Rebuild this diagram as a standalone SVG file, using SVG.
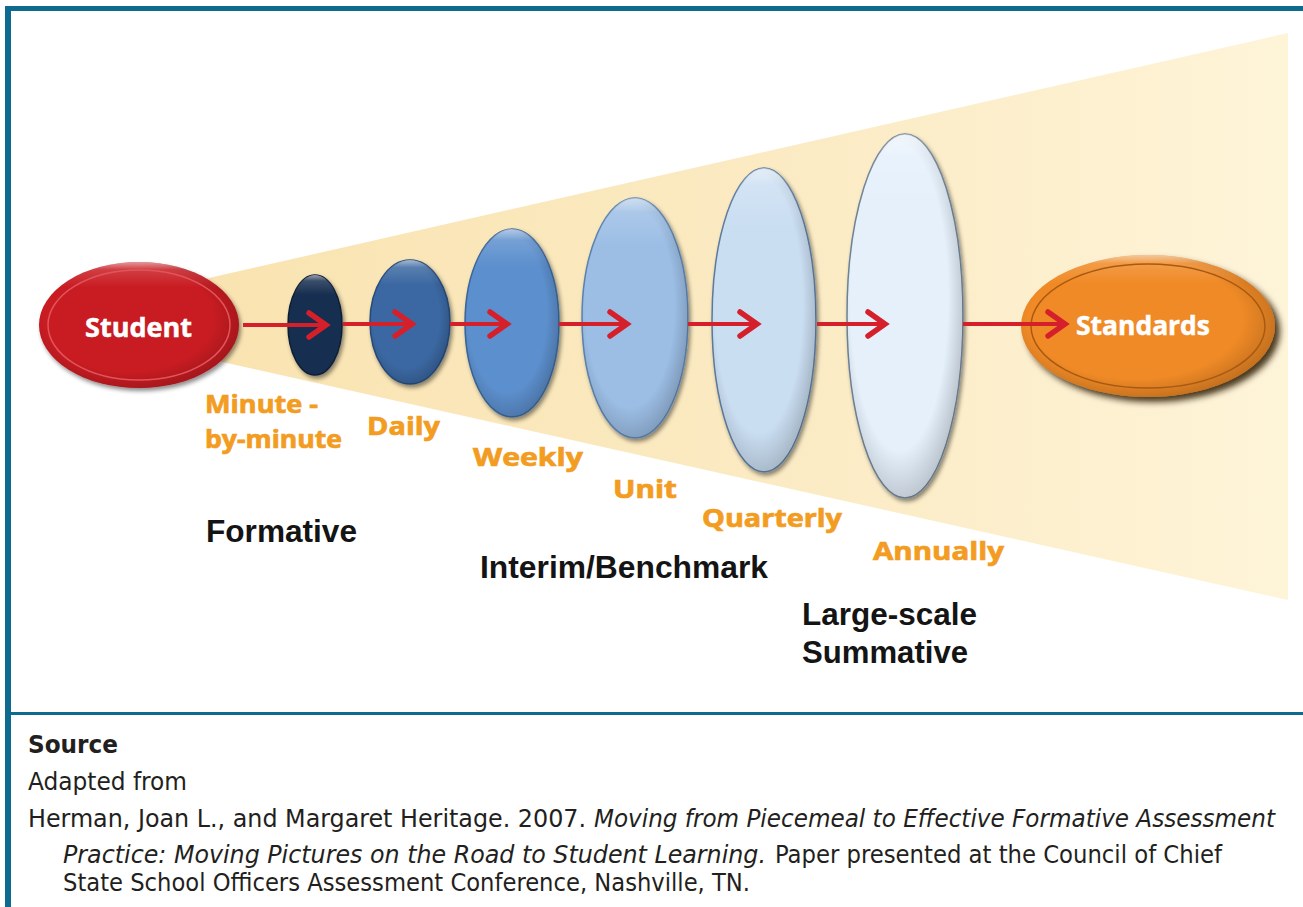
<svg xmlns="http://www.w3.org/2000/svg" width="1303" height="907" viewBox="0 0 1303 907">
  <style>
    .lbl { font-family: "Open Sans", Lato, "Liberation Sans", sans-serif; font-weight: bold; font-size: 25px; fill: #F39C22; stroke: #F39C22; stroke-width: 0.7px; }
    .cat { font-family: "Liberation Sans", Arial, sans-serif; font-weight: bold; font-size: 31px; fill: #141414; }
    .node-t { font-family: "Open Sans", Lato, "Liberation Sans", sans-serif; font-weight: bold; font-size: 27px; fill: #ffffff; stroke: #ffffff; stroke-width: 0.5px; }
    .src { font-family: "DejaVu Sans Condensed", "DejaVu Sans", sans-serif; font-stretch: condensed; font-size: 24px; fill: #231F20; }
    .it { font-style: italic; }
    .conn { stroke: #D5202B; stroke-width: 4; fill: none; marker-end: url(#arr); }
  </style>
  <defs>
    <marker id="arr" markerUnits="userSpaceOnUse" markerWidth="30" markerHeight="30" refX="22" refY="15" orient="auto" viewBox="0 0 30 30">
      <path d="M4 3 L21 15 L4 27" fill="none" stroke="#D5202B" stroke-width="5.5" stroke-linecap="round" stroke-linejoin="miter"/>
    </marker>
    <linearGradient id="beam" x1="0" y1="0" x2="1" y2="0">
      <stop offset="0" stop-color="#F9E3B0"/>
      <stop offset="0.5" stop-color="#FBEAC2"/>
      <stop offset="1" stop-color="#FEF4D8"/>
    </linearGradient>
    <radialGradient id="shade" cx="0.45" cy="0.45" r="0.6">
      <stop offset="0.7" stop-color="#000" stop-opacity="0"/>
      <stop offset="1" stop-color="#000" stop-opacity="0.22"/>
    </radialGradient>
    <linearGradient id="gloss" x1="0" y1="0" x2="0" y2="1">
      <stop offset="0" stop-color="#fff" stop-opacity="0.55"/>
      <stop offset="0.06" stop-color="#fff" stop-opacity="0.15"/>
      <stop offset="0.2" stop-color="#fff" stop-opacity="0"/>
    </linearGradient>
    <filter id="sh" x="-30%" y="-30%" width="160%" height="160%">
      <feDropShadow dx="2" dy="3" stdDeviation="2" flood-color="#000" flood-opacity="0.45"/>
    </filter>
    <filter id="sh2" x="-30%" y="-30%" width="160%" height="160%">
      <feDropShadow dx="5" dy="5" stdDeviation="3" flood-color="#2a1200" flood-opacity="0.85"/>
    </filter>
  </defs>

  <!-- frame -->
  <rect x="5" y="6" width="1298" height="5" fill="#0F6A8F"/>
  <rect x="5" y="6" width="6" height="901" fill="#0F6A8F"/>
  <rect x="11" y="712" width="1292" height="3" fill="#0F6A8F"/>

  <!-- beam -->
  <polygon points="200,280 1288,33 1288,600 200,357" fill="url(#beam)"/>

  <!-- nodes -->
  <g id="student">
    <ellipse cx="139" cy="325" rx="100" ry="63" fill="#C81B23" filter="url(#sh)"/>
    <ellipse cx="139" cy="325" rx="100" ry="63" fill="url(#shade)"/>
    <ellipse cx="139" cy="325" rx="100" ry="63" fill="url(#gloss)"/>
    <ellipse cx="139" cy="325" rx="91" ry="55" fill="none" stroke="#E2545A" stroke-width="1.5"/>
    <text class="node-t" x="85" y="337" textLength="107" lengthAdjust="spacingAndGlyphs">Student</text>
  </g>

  <g id="minute">
    <ellipse cx="315" cy="325" rx="27" ry="50" fill="#172F50" stroke="#0E1F36" stroke-width="1.5" filter="url(#sh)"/>
    <ellipse cx="315" cy="325" rx="27" ry="50" fill="url(#gloss)"/>
    <text class="lbl" x="205" y="413" textLength="113" lengthAdjust="spacingAndGlyphs">Minute -</text>
    <text class="lbl" x="205" y="448" textLength="137" lengthAdjust="spacingAndGlyphs">by-minute</text>
  </g>

  <g id="daily">
    <ellipse cx="410" cy="322" rx="40" ry="62" fill="#3A68A2" stroke="#274C7C" stroke-width="1.5" filter="url(#sh)"/>
    <ellipse cx="410" cy="322" rx="40" ry="62" fill="url(#shade)"/>
    <ellipse cx="410" cy="322" rx="40" ry="62" fill="url(#gloss)"/>
    <text class="lbl" x="367" y="435" textLength="73" lengthAdjust="spacingAndGlyphs">Daily</text>
  </g>

  <g id="weekly">
    <ellipse cx="512" cy="323" rx="47" ry="94" fill="#5B8FCD" stroke="#3A6699" stroke-width="1.5" filter="url(#sh)"/>
    <ellipse cx="512" cy="323" rx="47" ry="94" fill="url(#shade)"/>
    <ellipse cx="512" cy="323" rx="47" ry="94" fill="url(#gloss)"/>
    <text class="lbl" x="473" y="466" textLength="110" lengthAdjust="spacingAndGlyphs">Weekly</text>
  </g>

  <g id="unit">
    <ellipse cx="635" cy="318" rx="53" ry="120" fill="#9CBEE5" stroke="#5C83B0" stroke-width="1.5" filter="url(#sh)"/>
    <ellipse cx="635" cy="318" rx="53" ry="120" fill="url(#shade)"/>
    <ellipse cx="635" cy="318" rx="53" ry="120" fill="url(#gloss)"/>
    <text class="lbl" x="613" y="498" textLength="64" lengthAdjust="spacingAndGlyphs">Unit</text>
  </g>

  <g id="quarterly">
    <ellipse cx="764" cy="320" rx="52" ry="152" fill="#CADEF2" stroke="#5D7C9E" stroke-width="1.5" filter="url(#sh)"/>
    <ellipse cx="764" cy="320" rx="52" ry="152" fill="url(#shade)"/>
    <ellipse cx="764" cy="320" rx="52" ry="152" fill="url(#gloss)"/>
    <text class="lbl" x="702" y="527" textLength="140" lengthAdjust="spacingAndGlyphs">Quarterly</text>
  </g>

  <g id="annually">
    <ellipse cx="905" cy="316" rx="58" ry="182" fill="#E5F0FB" stroke="#6F8396" stroke-width="1.5" filter="url(#sh)"/>
    <ellipse cx="905" cy="316" rx="58" ry="182" fill="url(#shade)"/>
    <ellipse cx="905" cy="316" rx="58" ry="182" fill="url(#gloss)"/>
    <text class="lbl" x="873" y="560" textLength="131" lengthAdjust="spacingAndGlyphs">Annually</text>
  </g>

  <g id="standards">
    <ellipse cx="1148" cy="326" rx="127" ry="71" fill="#F08A26" filter="url(#sh2)"/>
    <ellipse cx="1148" cy="326" rx="127" ry="71" fill="url(#shade)"/>
    <ellipse cx="1148" cy="326" rx="127" ry="71" fill="url(#gloss)"/>
    <ellipse cx="1148" cy="326" rx="117" ry="62" fill="none" stroke="#A95A12" stroke-width="1.5"/>
    <text class="node-t" x="1076" y="335" textLength="134" lengthAdjust="spacingAndGlyphs">Standards</text>
  </g>

  <!-- connectors (drawn over the ellipses) -->
  <g id="connectors">
    <line class="conn" x1="243" y1="325" x2="327" y2="325"/>
    <line class="conn" x1="343" y1="324" x2="413" y2="324"/>
    <line class="conn" x1="450" y1="324" x2="508" y2="324"/>
    <line class="conn" x1="559" y1="324" x2="628" y2="324"/>
    <line class="conn" x1="688" y1="324" x2="758" y2="324"/>
    <line class="conn" x1="817" y1="324" x2="886" y2="324"/>
    <line class="conn" x1="963" y1="324" x2="1066" y2="324"/>
  </g>

  <g id="categories">
    <text class="cat" x="206" y="542" textLength="151" lengthAdjust="spacingAndGlyphs">Formative</text>
    <text class="cat" x="480" y="578" textLength="288" lengthAdjust="spacingAndGlyphs">Interim/Benchmark</text>
    <text class="cat" x="802" y="625" textLength="175" lengthAdjust="spacingAndGlyphs">Large-scale</text>
    <text class="cat" x="802" y="663" textLength="166" lengthAdjust="spacingAndGlyphs">Summative</text>
  </g>

  <g id="source">
    <text class="src" x="28" y="753" font-weight="bold" textLength="90" lengthAdjust="spacingAndGlyphs">Source</text>
    <text class="src" x="28" y="790" textLength="159" lengthAdjust="spacingAndGlyphs">Adapted from</text>
    <text class="src" x="28" y="827" textLength="558" lengthAdjust="spacingAndGlyphs">Herman, Joan L., and Margaret Heritage. 2007.</text>
    <text class="src it" x="594" y="827" textLength="681" lengthAdjust="spacingAndGlyphs">Moving from Piecemeal to Effective Formative Assessment</text>
    <text class="src it" x="63" y="863" textLength="703" lengthAdjust="spacingAndGlyphs">Practice: Moving Pictures on the Road to Student Learning.</text>
    <text class="src" x="775" y="863" textLength="447" lengthAdjust="spacingAndGlyphs">Paper presented at the Council of Chief</text>
    <text class="src" x="63" y="891" textLength="687" lengthAdjust="spacingAndGlyphs">State School Officers Assessment Conference, Nashville, TN.</text>
  </g>
</svg>
